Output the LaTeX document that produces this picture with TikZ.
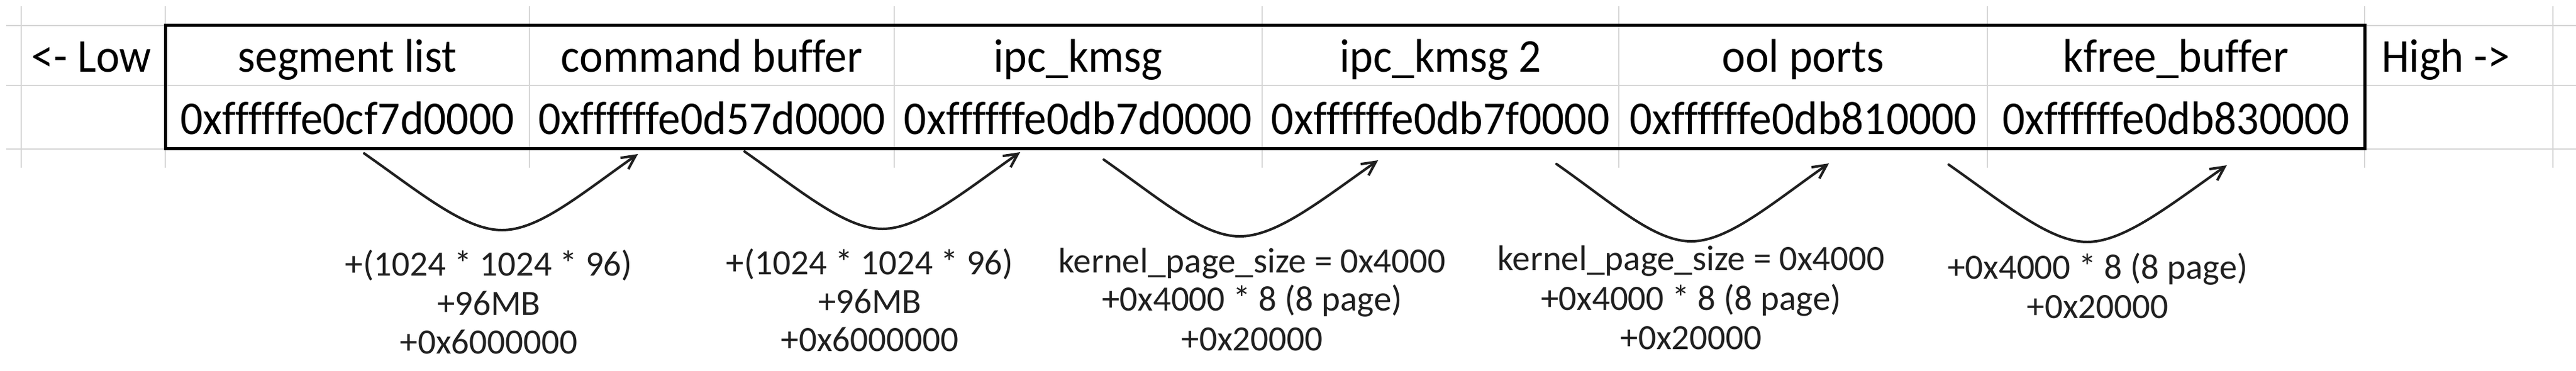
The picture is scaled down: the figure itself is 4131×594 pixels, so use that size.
\documentclass[tikz,border=0pt]{standalone}
\usepackage{fontspec}
\setmainfont{Carlito}[Ligatures={NoCommon}]
\newfontfamily\tabfont{Carlito}[FakeStretch=0.945,Ligatures={NoCommon}]
\usetikzlibrary{arrows.meta}
\definecolor{gridgray}{HTML}{D6D6D6}
\definecolor{ink}{HTML}{1F1F1F}
\begin{document}
\begin{tikzpicture}[x=0.25pt,y=-0.25pt,
  gridline/.style={draw=gridgray,line width=0.6pt},
  cell/.style={font=\tabfont\fontsize{18.9}{22}\selectfont,anchor=base,inner sep=0pt},
  lbl/.style={font=\fontsize{14.25}{17}\selectfont,text=ink,anchor=base,inner sep=0pt},
  arr/.style={draw=ink,line width=1pt,line cap=round,-{Straight Barb[length=5.5pt,width=5.5pt]}}]
\useasboundingbox (0,0) rectangle (4131,594);
% spreadsheet grid
\foreach \x in {34,265,849,1434,2024,2596,3187,3792,4094}
  \draw[gridline] (\x,10) -- (\x,269);
\foreach \y in {41,137,239}
  \draw[gridline] (10,\y) -- (4131,\y);
% thick table border
\draw[line width=1.25pt] (265,40) rectangle (3792,238);
% table texts
\node[cell] (low) at (147,115) {<- Low};
\node[cell] (high) at (3922,115) {High ->};
\node[cell] (n1) at (557,115) {segment list};
\node[cell] (n2) at (1141.5,115) {command buffer};
\node[cell] (n3) at (1729,115) {ipc\_kmsg};
\node[cell] (n4) at (2310,115) {ipc\_kmsg 2};
\node[cell] (n5) at (2891.5,115) {ool ports};
\node[cell] (n6) at (3489.5,115) {kfree\_buffer};
\node[cell] (a1) at (557,215) {0xffffffe0cf7d0000};
\node[cell] (a2) at (1141.5,215) {0xffffffe0d57d0000};
\node[cell] (a3) at (1729,215) {0xffffffe0db7d0000};
\node[cell] (a4) at (2310,215) {0xffffffe0db7f0000};
\node[cell] (a5) at (2891.5,215) {0xffffffe0db810000};
\node[cell] (a6) at (3489.5,215) {0xffffffe0db830000};
% arrow coordinates
\coordinate (s1) at (584,246);  \coordinate (m1) at (805,369);  \coordinate (t1) at (1023,247);
\coordinate (s2) at (1194,243); \coordinate (m2) at (1415,367); \coordinate (t2) at (1636,244);
\coordinate (s3) at (1770,256); \coordinate (m3) at (1988,379); \coordinate (t3) at (2210,257);
\coordinate (s4) at (2496,263); \coordinate (m4) at (2712,387); \coordinate (t4) at (2933,262);
\coordinate (s5) at (3125,264); \coordinate (m5) at (3347,388); \coordinate (t5) at (3571,265);
\foreach \i in {1,...,5}
  \draw[arr] (s\i) .. controls +(90,63) and +(-60,0) .. (m\i) .. controls +(60,0) and +(-90,63) .. (t\i);
% labels
\node[lbl] (l1a) at (784,442) {+(1024 * 1024 * 96)};
\node[lbl] (l1b) at (784,505) {+96MB};
\node[lbl] (l1c) at (784,567) {+0x6000000};
\node[lbl] (l2a) at (1395,440) {+(1024 * 1024 * 96)};
\node[lbl] (l2b) at (1395,502) {+96MB};
\node[lbl] (l2c) at (1395,563) {+0x6000000};
\node[lbl] (l3a) at (2008,437) {kernel\_page\_size = 0x4000};
\node[lbl] (l3b) at (2008,498) {+0x4000 * 8 (8 page)};
\node[lbl] (l3c) at (2008,562) {+0x20000};
\node[lbl] (l4a) at (2712,433) {kernel\_page\_size = 0x4000};
\node[lbl] (l4b) at (2712,497) {+0x4000 * 8 (8 page)};
\node[lbl] (l4c) at (2712,560) {+0x20000};
\node[lbl] (l5a) at (3364,447) {+0x4000 * 8 (8 page)};
\node[lbl] (l5b) at (3364,510) {+0x20000};
\end{tikzpicture}
\end{document}
